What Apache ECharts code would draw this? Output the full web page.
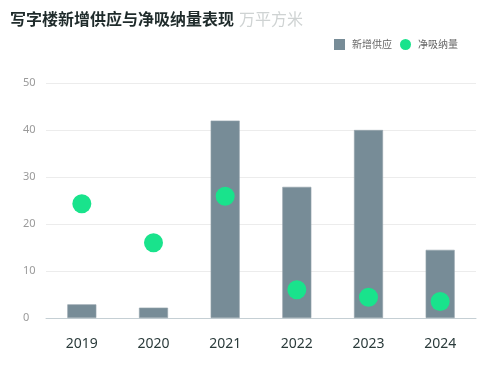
<!DOCTYPE html>
<html><head><meta charset="utf-8">
<script src="https://cdn.jsdelivr.net/npm/echarts@6/dist/echarts.min.js"></script>
<style>html,body{margin:0;padding:0;background:#fff}#c{width:492px;height:368px}</style>
</head><body><div id="c"></div>
<script>
const categories = ['2019','2020','2021','2022','2023','2024'];
const supply = [2.9, 2.2, 42, 27.9, 40, 14.5];
const absorption = [24.3, 16.0, 25.9, 6.0, 4.4, 3.5];
const yTicks = [0, 10, 20, 30, 40, 50];

const chart = echarts.init(document.getElementById('c'));
chart.setOption({
  animation: false,
  title: {
    left: 5, top: 5,
    text: '{a|写字楼新增供应与净吸纳量表现} {b|万平方米}',
    textStyle: {
      rich: {
        a: {fontSize: 16, fontWeight: 'bold', color: '#1f2b2b', fontFamily: 'Noto Sans CJK SC'},
        b: {fontSize: 16, fontWeight: 'normal', color: '#cfd3d3', fontFamily: 'Noto Sans CJK SC'}
      }
    }
  },
  legend: {
    right: 29, top: 34,
    itemGap: 8, itemWidth: 11, itemHeight: 11,
    itemStyle: {borderWidth: 0},
    textStyle: {fontSize: 10, color: '#666', fontFamily: 'Noto Sans CJK SC', padding: [0, 0, 0, 2]},
    data: [{name: '新增供应', icon: 'rect'}, {name: '净吸纳量', icon: 'circle'}]
  },
  grid: {left: 46, right: 16, top: 83, bottom: 50},
  xAxis: {
    type: 'category', data: categories,
    axisLine: {lineStyle: {color: '#c5cfd4'}},
    axisTick: {show: false},
    axisLabel: {fontSize: 14, color: '#2b3b3b', margin: 19, fontFamily: 'Noto Sans'}
  },
  yAxis: {
    type: 'value', min: yTicks[0], max: yTicks[yTicks.length-1], interval: 10,
    axisLine: {show: false}, axisTick: {show: false},
    axisLabel: {fontSize: 11, color: '#9a9a9a', align: 'left', margin: 23, fontFamily: 'Noto Sans'},
    splitLine: {lineStyle: {color: '#ececec'}}
  },
  series: [
    {name: '新增供应', type: 'bar', data: supply, barWidth: 29,
     itemStyle: {color: '#778c97', borderColor: '#93a3ab', borderWidth: 0.6}},
    {name: '净吸纳量', type: 'scatter', data: absorption, symbolSize: 19,
     itemStyle: {color: '#19e38c', opacity: 1}, z: 5}
  ]
});
</script></body></html>
